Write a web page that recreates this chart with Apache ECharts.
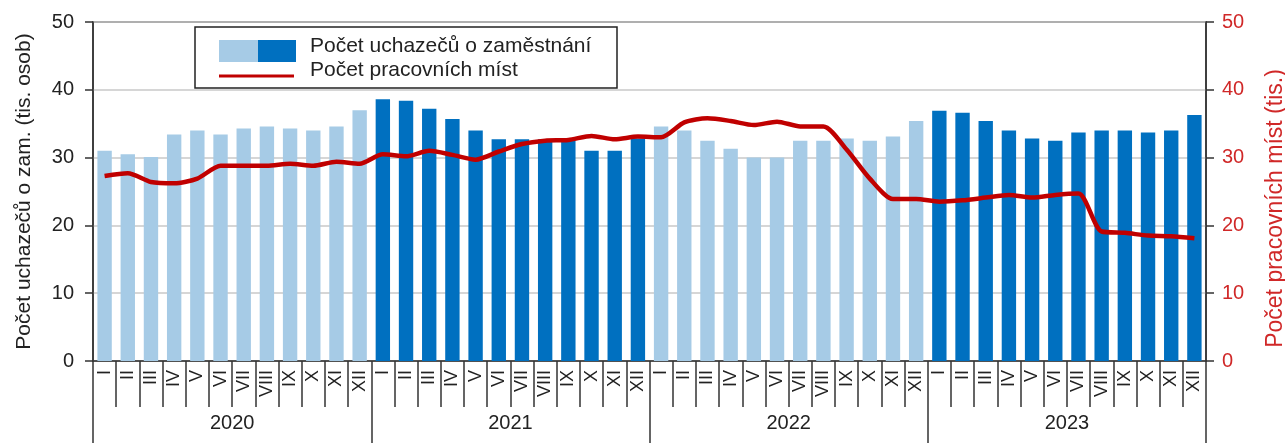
<!DOCTYPE html>
<html><head><meta charset="utf-8">
<script src="https://cdn.jsdelivr.net/npm/echarts@6/dist/echarts.min.js"></script>
<style>html,body{margin:0;padding:0;background:#fff}#c{width:1285px;height:443px}</style>
</head><body><div id="c"></div>
<script>
const years = ['2020','2021','2022','2023'];
const months = ['I','II','III','IV','V','VI','VII','VIII','IX','X','XI','XII'];
const applicants2020 = [31.0,30.5,30.1,33.4,34.0,33.4,34.3,34.6,34.3,34.0,34.6,37.0];
const applicants2021 = [38.6,38.4,37.2,35.7,34.0,32.7,32.7,32.7,32.5,31.0,31.0,32.8];
const applicants2022 = [34.6,34.0,32.5,31.3,30.0,30.0,32.5,32.5,32.8,32.5,33.1,35.4];
const applicants2023 = [36.9,36.6,35.4,34.0,32.8,32.5,33.7,34.0,34.0,33.7,34.0,36.3];
const vacancies2020 = [27.3,27.7,26.4,26.2,26.9,28.8,28.8,28.8,29.1,28.8,29.4,29.1];
const vacancies2021 = [30.5,30.2,31.0,30.4,29.7,30.9,32.0,32.5,32.6,33.2,32.7,33.1];
const vacancies2022 = [33.0,35.2,35.8,35.4,34.8,35.3,34.6,34.6,31.2,26.9,23.9,23.9];
const vacancies2023 = [23.5,23.7,24.1,24.5,24.1,24.5,24.7,19.1,18.9,18.5,18.4,18.1];
const yTicks = [0,10,20,30,40,50];

const LIGHT = '#a6cbe6', DARK = '#0070c0', RED = '#c00000';
const applicants = [applicants2020, applicants2021, applicants2022, applicants2023];
const vacancies = [vacancies2020, vacancies2021, vacancies2022, vacancies2023];
const cats = [], barData = [], lineData = [];
years.forEach((y, yi) => {
  months.forEach((m, mi) => {
    cats.push(m);
    barData.push({value: applicants[yi][mi], itemStyle: {color: yi % 2 === 0 ? LIGHT : DARK}});
    lineData.push(vacancies[yi][mi]);
  });
});

const chart = echarts.init(document.getElementById('c'), null, {renderer: 'canvas'});
const font = 'Liberation Sans, Arial, sans-serif';
chart.setOption({
  animation: false,
  backgroundColor: '#fff',
  textStyle: {fontFamily: font},
  grid: {left: 93, right: 79, top: 22, bottom: 82, containLabel: false, outerBoundsMode: 'none',
         show: true, borderColor: '#333', borderWidth: 1.5, backgroundColor: 'transparent'},
  xAxis: [{
    type: 'category', data: cats, position: 'bottom',
    axisLine: {lineStyle: {color: '#333', width: 1.5}},
    axisTick: {show: true, interval: 0, length: 46, lineStyle: {color: '#333', width: 1.5}},
    axisLabel: {interval: 0, rotate: 90, margin: 9, fontSize: 18, color: '#222', fontFamily: font}
  }, {
    type: 'category', data: years, position: 'bottom',
    axisLine: {show: false},
    axisTick: {show: true, interval: 0, length: 90, lineStyle: {color: '#333', width: 1.5}},
    axisLabel: {interval: 0, margin: 52, fontSize: 20, color: '#222', fontFamily: font}
  }],
  yAxis: [{
    type: 'value', min: 0, max: 50, interval: 10, position: 'left',
    name: 'Počet uchazečů o zam. (tis. osob)', nameLocation: 'middle', nameGap: 58, nameRotate: 90,
    nameTextStyle: {fontSize: 21, color: '#222', fontFamily: font},
    axisLine: {show: true, lineStyle: {color: '#333', width: 1.5}},
    axisTick: {show: true, length: 8, lineStyle: {color: '#333', width: 1.5}},
    axisLabel: {fontSize: 20, color: '#222', margin: 19, fontFamily: font},
    splitLine: {show: true, lineStyle: {color: '#c8c8c8', width: 1.5}}
  }, {
    type: 'value', min: 0, max: 50, interval: 10, position: 'right',
    name: 'Počet pracovních míst (tis.)', nameLocation: 'middle', nameGap: 58, nameRotate: 90,
    nameTextStyle: {fontSize: 23, color: '#d02828', fontFamily: font, padding: [0, 34, 0, 0]},
    axisLine: {show: true, lineStyle: {color: '#333', width: 1.5}},
    axisTick: {show: true, length: 8, lineStyle: {color: '#333', width: 1.5}},
    axisLabel: {fontSize: 20, color: '#d02828', margin: 16, fontFamily: font},
    splitLine: {show: false}
  }],
  series: [{
    name: 'Počet uchazečů o zaměstnání', type: 'bar', xAxisIndex: 0, yAxisIndex: 0,
    data: barData, barWidth: '62%'
  }, {
    name: 'Počet pracovních míst', type: 'line', xAxisIndex: 0, yAxisIndex: 1,
    data: lineData, smooth: 0.25, symbol: 'none',
    lineStyle: {color: RED, width: 4.5}, itemStyle: {color: RED}
  }],
  graphic: [
    {type: 'rect', shape: {x: 195, y: 27, width: 422, height: 61}, style: {fill: '#fff', stroke: '#222', lineWidth: 1.5}, z: 100},
    {type: 'rect', shape: {x: 219, y: 40, width: 40, height: 22}, style: {fill: LIGHT}, z: 101},
    {type: 'rect', shape: {x: 258, y: 40, width: 38, height: 22}, style: {fill: DARK}, z: 101},
    {type: 'line', shape: {x1: 219, y1: 76, x2: 294, y2: 76}, style: {stroke: RED, lineWidth: 3}, z: 101},
    {type: 'text', x: 310, y: 46, style: {text: 'Počet uchazečů o zaměstnání', font: '21px ' + font, fill: '#222', textVerticalAlign: 'middle'}, z: 101},
    {type: 'text', x: 310, y: 70, style: {text: 'Počet pracovních míst', font: '21px ' + font, fill: '#222', textVerticalAlign: 'middle'}, z: 101}
  ]
});
</script></body></html>
